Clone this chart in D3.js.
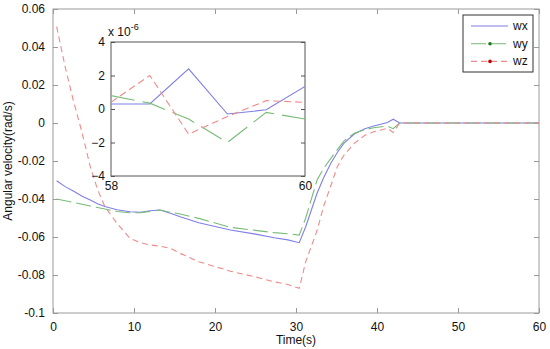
<!DOCTYPE html>
<html>
  <head>
    <meta charset="utf-8">
    <script src="https://d3js.org/d3.v7.min.js"></script>
    <title>Angular velocity</title>
    <style>
      body { margin: 0; background: #fff; }
      text { font-family: "Liberation Sans", Arial, sans-serif; font-size: 12px; fill: #111; }
    </style>
  </head>
  <body>
    <div id="chart"></div>
    <script>
      // main plot data (time in s, rates in rad/s)
      const time = [0.45, 1.5, 2.5, 3.6, 4.6, 5.5, 6.4, 7.9, 9.5, 10.8, 12, 13.2, 14.5, 15.7, 18, 21.9, 25, 27.3, 29, 30.4,
                    31.2, 32.6, 33.4, 34.3, 35.1, 35.9, 37.2, 38.5, 39.6, 41.3, 42.0, 42.8, 60];
      const wx = [-0.0304, -0.0335, -0.0358, -0.0386, -0.0405, -0.0425, -0.044, -0.0457, -0.0467, -0.047, -0.0462, -0.0458, -0.0475, -0.0493, -0.0525, -0.0563, -0.0585, -0.0604, -0.0615, -0.063,
                  -0.0546, -0.037, -0.029, -0.0212, -0.0155, -0.0107, -0.0058, -0.003, -0.0016, 0.0003, 0.002, 0, 0];
      const wy = [-0.040, -0.0409, -0.0418, -0.0428, -0.0437, -0.0445, -0.0453, -0.0466, -0.0472, -0.0472, -0.0465, -0.0458, -0.047, -0.0479, -0.0502, -0.0549, -0.0565, -0.0577, -0.0583, -0.059,
                  -0.050, -0.030, -0.024, -0.0186, -0.014, -0.0095, -0.0054, -0.0035, -0.0025, -0.0016, -0.003, 0, 0];
      const wz = [0.0507, 0.0296, 0.012, -0.0053, -0.023, -0.035, -0.044, -0.0528, -0.0607, -0.063, -0.0642, -0.0648, -0.066, -0.0686, -0.073, -0.078, -0.081, -0.0836, -0.085, -0.087,
                  -0.073, -0.0566, -0.044, -0.033, -0.023, -0.017, -0.0107, -0.0065, -0.0046, -0.0028, -0.005, 0, 0];

      // inset data (time 58..60 s, rates in units of 1e-6)
      const insetTime = [58, 58.4, 58.8, 59.2, 59.6, 60];
      const wxInset = [0.3, 0.3, 2.4, -0.3, -0.05, 1.35];
      const wyInset = [0.8, 0.35, -0.6, -2.0, -0.2, -0.6];
      const wzInset = [0.4, 2.0, -1.5, -0.45, 0.5, 0.4];

      const xTicks = [0, 10, 20, 30, 40, 50, 60];
      const yTicks = [0.06, 0.04, 0.02, 0, -0.02, -0.04, -0.06, -0.08, -0.1];
      const yTickLabels = ["0.06", "0.04", "0.02", "0", "-0.02", "-0.04", "-0.06", "-0.08", "-0.1"];
      const insetYTicks = [4, 2, 0, -2, -4];
      const insetXTicks = [58, 60];
      const seriesNames = ["wx", "wy", "wz"];

      const W = 550, H = 349;
      const colors = { wx: "#7f7fe6", wy: "#78bb78", wz: "#f08a8a" };
      const dashes = { wx: null, wy: "15,5", wz: "6,4" };

      const svg = d3.select("#chart").append("svg").attr("width", W).attr("height", H);

      const x = d3.scaleLinear().domain([0, 60]).range([53, 539]);
      const y = d3.scaleLinear().domain([-0.1, 0.06]).range([313, 9]);

      // main box
      svg.append("rect").attr("x", 53).attr("y", 9).attr("width", 486).attr("height", 304)
        .attr("fill", "#fff").attr("stroke", "#9a9a9a");

      const gx = svg.append("g").attr("transform", "translate(0,313)")
        .call(d3.axisBottom(x).tickValues(xTicks).tickSize(-5).tickPadding(9).tickFormat(d3.format("d")));
      const gxTop = svg.append("g").attr("transform", "translate(0,9)")
        .call(d3.axisTop(x).tickValues(xTicks).tickSize(-5).tickFormat(""));
      const gy = svg.append("g").attr("transform", "translate(53,0)")
        .call(d3.axisLeft(y).tickValues(yTicks).tickSize(-5).tickPadding(8).tickFormat((d, i) => yTickLabels[i]));
      const gyRight = svg.append("g").attr("transform", "translate(539,0)")
        .call(d3.axisRight(y).tickValues(yTicks).tickSize(-5).tickFormat(""));
      [gx, gxTop, gy, gyRight].forEach(g => {
        g.select(".domain").remove();
        g.selectAll("line").attr("stroke", "#9a9a9a");
        g.selectAll("text").attr("font-size", 12).attr("fill", "#111");
      });

      const line = (xs, ys, sx, sy) => d3.line().x((d, i) => sx(xs[i])).y(d => sy(d))(ys);

      const main = { wx: wx, wy: wy, wz: wz };
      seriesNames.forEach(k => {
        svg.append("path").attr("d", line(time, main[k], x, y))
          .attr("fill", "none").attr("stroke", colors[k]).attr("stroke-width", 1.1)
          .attr("stroke-dasharray", dashes[k]);
      });

      // axis labels
      svg.append("text").attr("x", 296).attr("y", 344).attr("text-anchor", "middle").text("Time(s)");
      svg.append("text").attr("transform", "translate(12,161) rotate(-90)")
        .attr("text-anchor", "middle").text("Angular velocity(rad/s)");

      // inset
      const ix = d3.scaleLinear().domain([58, 60]).range([111, 305]);
      const iy = d3.scaleLinear().domain([-4, 4]).range([176, 42]);
      svg.append("rect").attr("x", 111).attr("y", 42).attr("width", 194).attr("height", 134)
        .attr("fill", "#fff").attr("stroke", "#555");
      const igy = svg.append("g").attr("transform", "translate(111,0)")
        .call(d3.axisLeft(iy).tickValues(insetYTicks).tickSize(-4).tickPadding(6).tickFormat(d3.format("d")));
      const igyR = svg.append("g").attr("transform", "translate(305,0)")
        .call(d3.axisRight(iy).tickValues(insetYTicks).tickSize(-4).tickFormat(""));
      const igx = svg.append("g").attr("transform", "translate(0,176)")
        .call(d3.axisBottom(ix).tickValues(insetXTicks).tickSize(0).tickPadding(5).tickFormat(d3.format("d")));
      [igy, igyR, igx].forEach(g => {
        g.select(".domain").remove();
        g.selectAll("line").attr("stroke", "#555");
        g.selectAll("text").attr("font-size", 12).attr("fill", "#111");
      });
      const sci = svg.append("text").attr("x", 108).attr("y", 36);
      sci.append("tspan").text("x 10");
      sci.append("tspan").attr("dy", -6).attr("font-size", 9).text("-6");

      const inset = { wx: wxInset, wy: wyInset, wz: wzInset };
      const clip = svg.append("clipPath").attr("id", "ic").append("rect")
        .attr("x", 111).attr("y", 42).attr("width", 194).attr("height", 134);
      seriesNames.forEach(k => {
        svg.append("path").attr("d", line(insetTime, inset[k], ix, iy))
          .attr("clip-path", "url(#ic)")
          .attr("fill", "none").attr("stroke", colors[k]).attr("stroke-width", 1.1)
          .attr("stroke-dasharray", k === "wy" ? "24,8" : k === "wz" ? "7,4" : null);
      });

      // legend
      const lg = svg.append("g");
      lg.append("rect").attr("x", 463).attr("y", 15).attr("width", 70).attr("height", 57)
        .attr("fill", "#fff").attr("stroke", "#333");
      const markerColors = { wx: null, wy: "#1a7a1a", wz: "#c00000" };
      seriesNames.forEach((k, i) => {
        const ly = 26 + i * 17.7;
        lg.append("line").attr("x1", 471).attr("x2", 508).attr("y1", ly).attr("y2", ly)
          .attr("stroke", colors[k]).attr("stroke-width", 1.1).attr("stroke-dasharray", dashes[k]);
        if (markerColors[k]) {
          lg.append("circle").attr("cx", 490).attr("cy", ly).attr("r", 1.8).attr("fill", markerColors[k]);
        }
        lg.append("text").attr("x", 513).attr("y", ly + 4).text(k);
      });
    </script>
  </body>
</html>
